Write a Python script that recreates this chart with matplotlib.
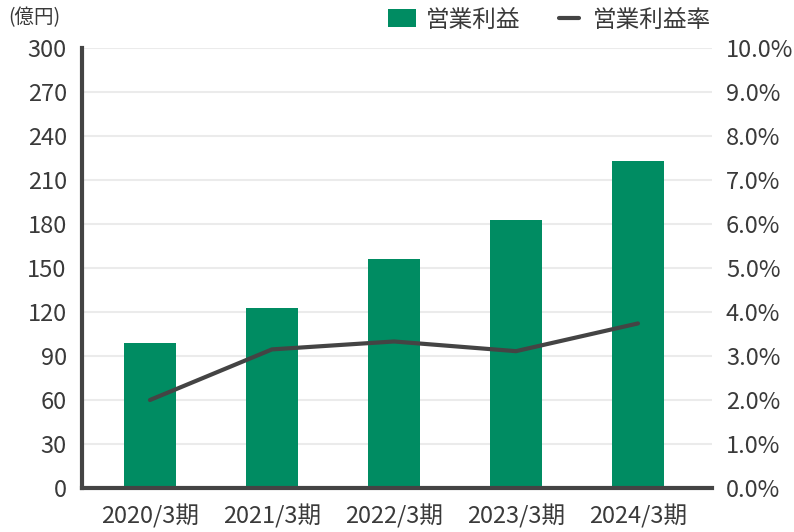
import matplotlib
matplotlib.use("Agg")
import matplotlib.pyplot as plt
from matplotlib.ticker import FuncFormatter

plt.rcParams['font.family'] = ['Noto Sans CJK JP', 'DejaVu Sans']

# データ
years = ['2020/3期', '2021/3期', '2022/3期', '2023/3期', '2024/3期']
profit = [99, 123, 156, 183, 223]          # 営業利益（億円）
margin = [2.0, 3.15, 3.33, 3.11, 3.74]     # 営業利益率（%）

green = '#008c62'
dark = '#444444'
text_c = '#3a3a3a'
fs = 17

fig = plt.figure(figsize=(7.94, 5.32), dpi=100)
ax1 = fig.add_axes([82 / 794, 44 / 532, 630 / 794, 440 / 532])
ax2 = ax1.twinx()

x = range(len(years))
bars = ax1.bar(x, profit, width=0.43, color=green, zorder=2, label='営業利益')
line, = ax2.plot(x, margin, color=dark, linewidth=3, solid_capstyle='round', zorder=3, label='営業利益率')

ax1.set_xlim(-0.557, 4.607)
ax1.set_ylim(0, 300)
ax2.set_ylim(0, 10)
ax1.set_yticks(range(0, 301, 30))
ax2.set_yticks(range(0, 11))
ax2.yaxis.set_major_formatter(FuncFormatter(lambda v, p: f'{v:.1f}%'))
ax1.set_xticks(list(x))
ax1.set_xticklabels(years)

ax1.grid(axis='y', color='#ebebeb', linewidth=1.5, zorder=0)
ax1.set_axisbelow(True)

for a in (ax1, ax2):
    for s in ('top', 'right'):
        a.spines[s].set_visible(False)
ax2.spines['left'].set_visible(False)
ax2.spines['bottom'].set_visible(False)
ax1.spines['left'].set_color(dark)
ax1.spines['left'].set_linewidth(3)
ax1.spines['bottom'].set_color(dark)
ax1.spines['bottom'].set_linewidth(3)

ax1.tick_params(axis='y', length=0, pad=11, labelsize=fs, labelcolor=text_c)
ax1.tick_params(axis='x', length=0, pad=12, labelsize=fs, labelcolor=text_c)
ax2.tick_params(axis='y', length=0, pad=10, labelsize=fs, labelcolor=text_c)

fig.text(8 / 794, 1 - 18 / 532, '(億円)', fontsize=14, color=text_c, va='center', ha='left')

# 凡例（棒と線で記号の長さが違うので二つに分ける）
fig.legend([bars], ['営業利益'], loc='center left', bbox_to_anchor=(388 / 794, 1 - 20 / 532),
           frameon=False, fontsize=fs, labelcolor=text_c, borderpad=0, borderaxespad=0,
           handlelength=1.2, handleheight=0.8, handletextpad=0.4)
fig.legend([line], ['営業利益率'], loc='center left', bbox_to_anchor=(559 / 794, 1 - 20 / 532),
           frameon=False, fontsize=fs, labelcolor=text_c, borderpad=0, borderaxespad=0,
           handlelength=0.85, handletextpad=0.6)

fig.savefig('out.png', dpi=100)
